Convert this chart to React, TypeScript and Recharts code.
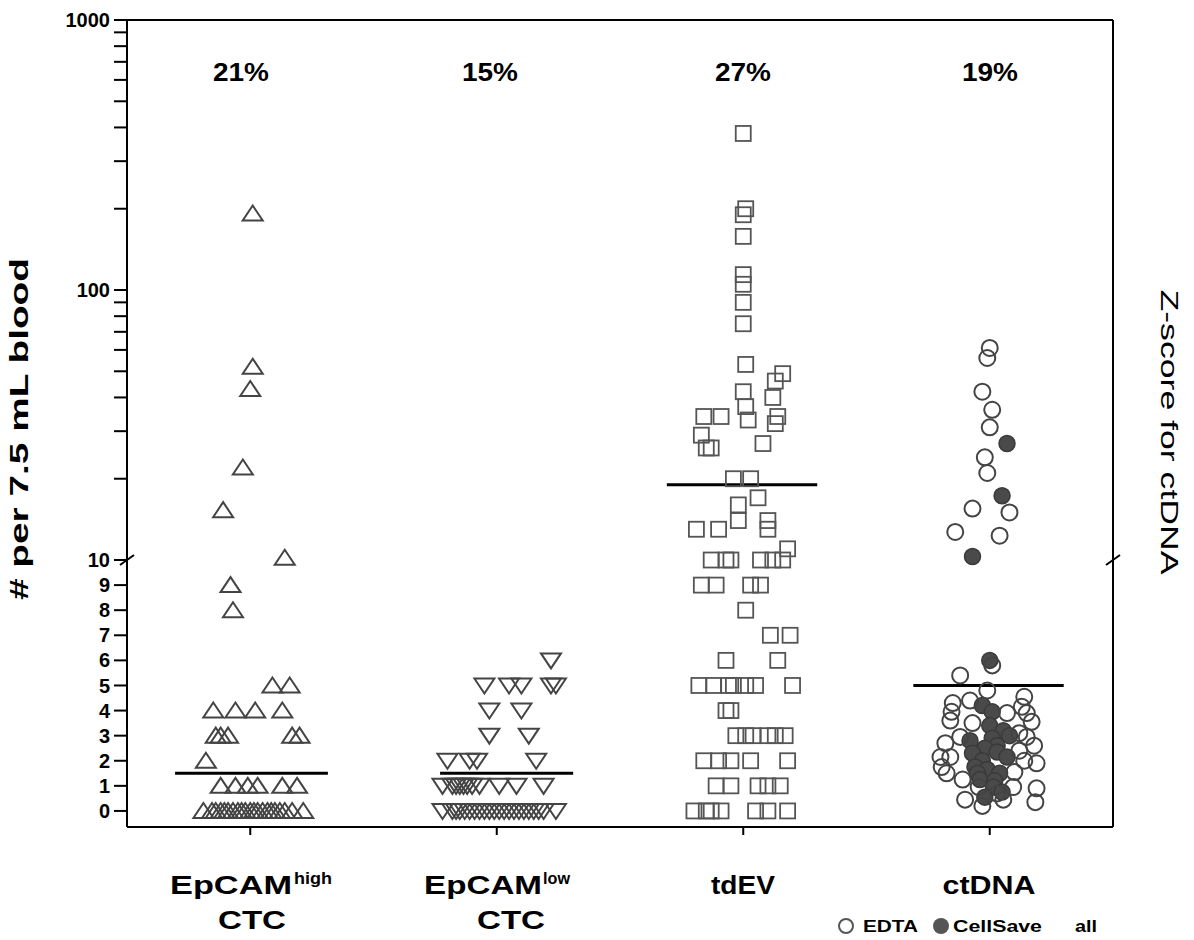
import React from 'react'
import { ScatterChart, Scatter, XAxis, YAxis, ReferenceLine, ReferenceDot } from 'recharts'

// [horizontal jitter from group centre, value]
const epcamHigh: [number, number][] = [
  [0.01, 192], [0.01, 52], [0.0, 43], [-0.03, 22], [-0.11, 15.3], [0.14, 10.2],
  [-0.08, 9], [-0.07, 8],
  [0.09, 5], [0.16, 5],
  [-0.15, 4], [-0.06, 4], [0.02, 4], [0.13, 4],
  [-0.14, 3], [-0.12, 3], [-0.09, 3], [0.17, 3], [0.2, 3],
  [-0.18, 2],
  [-0.12, 1], [-0.06, 1], [-0.01, 1], [0.03, 1], [0.13, 1], [0.19, 1],
  [-0.19, 0], [-0.155, 0], [-0.14, 0], [-0.12, 0], [-0.105, 0], [-0.09, 0], [-0.07, 0],
  [-0.05, 0], [-0.035, 0], [-0.02, 0], [0.0, 0], [0.015, 0], [0.03, 0], [0.05, 0],
  [0.07, 0], [0.085, 0], [0.1, 0], [0.12, 0], [0.14, 0], [0.17, 0], [0.215, 0],
]

const epcamLow: [number, number][] = [
  [0.22, 6],
  [-0.05, 5], [0.05, 5], [0.1, 5], [0.22, 5], [0.24, 5],
  [-0.03, 4], [0.1, 4],
  [-0.03, 3], [0.13, 3],
  [-0.2, 2], [-0.11, 2], [-0.08, 2], [0.16, 2],
  [-0.22, 1], [-0.18, 1], [-0.165, 1], [-0.15, 1], [-0.135, 1], [-0.12, 1], [-0.1, 1],
  [-0.07, 1], [0.01, 1], [0.08, 1], [0.19, 1],
  [-0.22, 0], [-0.18, 0], [-0.165, 0], [-0.15, 0], [-0.13, 0], [-0.11, 0], [-0.09, 0],
  [-0.07, 0], [-0.05, 0], [-0.03, 0], [-0.01, 0], [0.01, 0], [0.03, 0], [0.05, 0],
  [0.07, 0], [0.09, 0], [0.11, 0], [0.13, 0], [0.15, 0], [0.17, 0], [0.19, 0], [0.24, 0],
]

const tdEV: [number, number][] = [
  [0.0, 380], [0.01, 200], [0.0, 190], [0.0, 158], [0.0, 114], [0.0, 105], [0.0, 90],
  [0.0, 75], [0.01, 53], [0.16, 49], [0.13, 46], [0.0, 42], [0.12, 40], [0.01, 37],
  [-0.16, 34], [-0.09, 34], [0.02, 33], [0.14, 34], [0.13, 32], [-0.17, 29],
  [-0.15, 26], [-0.13, 26], [0.08, 27], [-0.04, 20], [0.03, 20], [0.06, 17],
  [-0.02, 16], [-0.02, 14], [-0.19, 13], [-0.1, 13], [0.1, 14], [0.1, 13], [0.18, 11],
  [-0.13, 10], [-0.07, 10], [-0.05, 10], [0.07, 10], [0.12, 10], [0.16, 10],
  [-0.17, 9], [-0.11, 9], [0.03, 9], [0.07, 9],
  [0.01, 8],
  [0.11, 7], [0.19, 7],
  [-0.07, 6], [0.14, 6],
  [-0.18, 5], [-0.12, 5], [-0.06, 5], [-0.04, 5], [0.01, 5], [0.05, 5], [0.2, 5],
  [-0.07, 4], [-0.05, 4],
  [-0.03, 3], [0.01, 3], [0.04, 3], [0.1, 3], [0.13, 3], [0.17, 3],
  [-0.16, 2], [-0.1, 2], [-0.05, 2], [0.03, 2], [0.18, 2],
  [-0.11, 1], [-0.05, 1], [0.06, 1], [0.1, 1], [0.15, 1],
  [-0.2, 0], [-0.15, 0], [-0.13, 0], [-0.09, 0], [0.05, 0], [0.1, 0], [0.18, 0],
]

const ctdnaEdta: [number, number][] = [
  [0.0, 61], [-0.01, 56], [-0.03, 42], [0.01, 36], [0.0, 31], [-0.02, 24], [-0.01, 21],
  [-0.07, 15.5], [0.08, 15], [-0.14, 12.7], [0.04, 12.3],
  [0.01, 5.8], [-0.12, 5.4], [-0.01, 4.8],
  [-0.15, 4.3], [-0.08, 4.4], [-0.155, 3.95], [-0.16, 3.6], [-0.07, 3.5],
  [0.14, 4.55], [0.13, 4.15], [0.15, 3.9], [0.17, 3.55], [0.07, 3.9],
  [0.12, 3.1], [0.15, 2.95], [0.18, 2.6], [-0.18, 2.7], [-0.12, 2.95],
  [-0.2, 2.15], [-0.16, 2.15], [-0.195, 1.75], [-0.175, 1.5], [0.19, 1.9],
  [0.14, 2.0], [0.12, 2.4], [-0.11, 1.25], [0.1, 1.55], [0.095, 0.95], [0.19, 0.9],
  [0.055, 0.45], [-0.1, 0.45], [-0.03, 0.2], [0.185, 0.35], [0.03, 0.7], [-0.045, 0.95],
]

const ctdnaCellSave: [number, number][] = [
  [0.07, 27], [0.05, 17.3], [-0.07, 10.3], [0.0, 6],
  [-0.03, 4.2], [0.01, 3.95], [0.0, 3.4], [0.055, 3.2], [0.08, 3.0], [0.01, 2.9], [-0.08, 2.8],
  [0.03, 2.6], [-0.02, 2.5], [0.03, 2.35], [-0.07, 2.3], [0.07, 2.15], [-0.03, 2.0],
  [-0.06, 1.75], [-0.01, 1.65], [0.04, 1.5], [-0.05, 1.5], [-0.04, 1.25], [0.02, 1.2],
  [0.015, 0.95], [-0.02, 0.55], [0.05, 0.75],
]

const groupPercent = ['21%', '15%', '27%', '19%']
const groupMeans = [1.5, 1.5, 19, 5]
const meanSpans: [number, number][] = [[0.195, 0.815], [1.27, 1.81], [2.19, 2.8], [3.19, 3.8]]

const yTickValues = [
  0, 1, 2, 3, 4, 5, 6, 7, 8, 9, 10, 20, 30, 40, 50, 60, 70, 80, 90,
  100, 200, 300, 400, 500, 600, 700, 800, 900, 1000,
]
const yLabelled = [0, 1, 2, 3, 4, 5, 6, 7, 8, 9, 10, 100, 1000]

// linear below 10, log above 10 (one decade = K linear units)
const K = 10.76
const toAxis = (v: number) => (v <= 10 ? v : 10 + (Math.log10(v) - 1) * K)
const fromAxis = (t: number) => (t <= 10 ? t : Math.pow(10, (t - 10) / K + 1))
const Y_MIN = -0.64
const Y_MAX = toAxis(1000)

const build = (pts: [number, number][], group: number) =>
  pts.map(([dx, v]) => ({ x: group + 0.5 + dx, y: toAxis(v) }))

const font = '"Liberation Sans", Arial, sans-serif'
const edge = '#444'

const TriUp = (p: any) => (
  <polygon
    points={`${p.cx},${p.cy - 8} ${p.cx - 10},${p.cy + 7} ${p.cx + 10},${p.cy + 7}`}
    fill="none" stroke={edge} strokeWidth={2}
  />
)
const TriDown = (p: any) => (
  <polygon
    points={`${p.cx - 10},${p.cy - 7} ${p.cx + 10},${p.cy - 7} ${p.cx},${p.cy + 8}`}
    fill="none" stroke={edge} strokeWidth={2}
  />
)
const Square = (p: any) => (
  <rect x={p.cx - 7.5} y={p.cy - 7.5} width={15} height={15} fill="none" stroke="#555" strokeWidth={1.8} />
)
const OpenCircle = (p: any) => (
  <circle cx={p.cx} cy={p.cy} r={8} fill="none" stroke={edge} strokeWidth={2} />
)
const FilledCircle = (p: any) => (
  <circle cx={p.cx} cy={p.cy} r={8} fill="#4a4a4a" stroke="#3a3a3a" strokeWidth={1.5} />
)
const BreakMark = (p: any) => (
  <line x1={p.cx - 7} y1={p.cy + 5} x2={p.cx + 7} y2={p.cy - 5} stroke="#000" strokeWidth={2} />
)

const fmt = (t: number) => {
  const r = Math.round(fromAxis(t))
  return yLabelled.includes(r) ? String(r) : ''
}

const fit = { lengthAdjust: 'spacingAndGlyphs' as const }

export default function App() {
  return (
    <div style={{ position: 'absolute', left: 0, top: 0, width: 1194, height: 940, background: '#fff' }}>
      <ScatterChart width={1194} height={940} margin={{ top: 20, right: 51, bottom: 93, left: 67 }}>
        <XAxis
          type="number" dataKey="x" domain={[0, 4]} ticks={[0.5, 1.5, 2.5, 3.5]}
          tickFormatter={() => ''} height={20} tickSize={8}
          axisLine={{ stroke: '#000', strokeWidth: 2 }} tickLine={{ stroke: '#000', strokeWidth: 2 }}
        />
        <YAxis
          yAxisId="left" type="number" dataKey="y" domain={[Y_MIN, Y_MAX]} ticks={yTickValues.map(toAxis)}
          interval={0} tickFormatter={fmt} width={60} tickSize={13} tickMargin={4}
          tick={{ fontSize: 20, fontWeight: 700, fill: '#000', fontFamily: font }}
          axisLine={{ stroke: '#000', strokeWidth: 2 }} tickLine={{ stroke: '#000', strokeWidth: 2 }}
        />
        <YAxis
          yAxisId="right" orientation="right" type="number" domain={[Y_MIN, Y_MAX]}
          ticks={yTickValues.map(toAxis)} interval={0} tickFormatter={() => ''} width={30} tickSize={14}
          axisLine={{ stroke: '#000', strokeWidth: 2 }} tickLine={{ stroke: '#000', strokeWidth: 2 }}
        />
        <ReferenceLine yAxisId="left" y={Y_MAX} stroke="#000" strokeWidth={2} />
        <ReferenceDot yAxisId="left" x={0} y={10} r={0} ifOverflow="visible" shape={BreakMark} />
        <ReferenceDot yAxisId="left" x={4} y={10} r={0} ifOverflow="visible" shape={BreakMark} />
        <Scatter yAxisId="left" data={build(epcamHigh, 0)} shape={TriUp} isAnimationActive={false} />
        <Scatter yAxisId="left" data={build(epcamLow, 1)} shape={TriDown} isAnimationActive={false} />
        <Scatter yAxisId="left" data={build(tdEV, 2)} shape={Square} isAnimationActive={false} />
        <Scatter yAxisId="left" data={build(ctdnaCellSave, 3)} shape={FilledCircle} isAnimationActive={false} />
        <Scatter yAxisId="left" data={build(ctdnaEdta, 3)} shape={OpenCircle} isAnimationActive={false} />
        {groupMeans.map((m, i) => (
          <ReferenceLine
            key={i} yAxisId="left" ifOverflow="visible"
            segment={[{ x: meanSpans[i][0], y: toAxis(m) }, { x: meanSpans[i][1], y: toAxis(m) }]}
            stroke="#000" strokeWidth={3}
          />
        ))}
      </ScatterChart>

      <svg width={1194} height={940} style={{ position: 'absolute', left: 0, top: 0, pointerEvents: 'none' }}
        fontFamily={font}>
        <text transform="translate(28,429) rotate(-90)" textAnchor="middle" fontSize={26} fontWeight={700}
          textLength={342} {...fit}>
          # per 7.5 mL blood
        </text>
        <text transform="translate(1161,432) rotate(90)" textAnchor="middle" fontSize={24}
          textLength={285} {...fit}>
          Z-score for ctDNA
        </text>
        {[241, 490, 743, 990].map((x, i) => (
          <text key={i} x={x} y={81} textAnchor="middle" fontSize={26} fontWeight={700} textLength={56} {...fit}>
            {groupPercent[i]}
          </text>
        ))}
        <g fontSize={26} fontWeight={700}>
          <text x={170} y={894} textLength={122} {...fit}>EpCAM</text>
          <text x={294} y={884} fontSize={17} textLength={38} {...fit}>high</text>
          <text x={252} y={929} textAnchor="middle" textLength={68} {...fit}>CTC</text>
          <text x={424} y={894} textLength={118} {...fit}>EpCAM</text>
          <text x={543} y={884} fontSize={17} textLength={27} {...fit}>low</text>
          <text x={511} y={929} textAnchor="middle" textLength={68} {...fit}>CTC</text>
          <text x={743} y={894} textAnchor="middle" textLength={64} {...fit}>tdEV</text>
          <text x={989} y={894} textAnchor="middle" textLength={93} {...fit}>ctDNA</text>
        </g>
        <g fontSize={17} fontWeight={700}>
          <circle cx={846} cy={926} r={7} fill="none" stroke="#555" strokeWidth={2} />
          <text x={863} y={932} textLength={55} {...fit}>EDTA</text>
          <circle cx={941} cy={926} r={8} fill="#555" />
          <text x={953} y={932} textLength={89} {...fit}>CellSave</text>
          <text x={1075} y={932} textLength={22} {...fit}>all</text>
        </g>
      </svg>
    </div>
  )
}
